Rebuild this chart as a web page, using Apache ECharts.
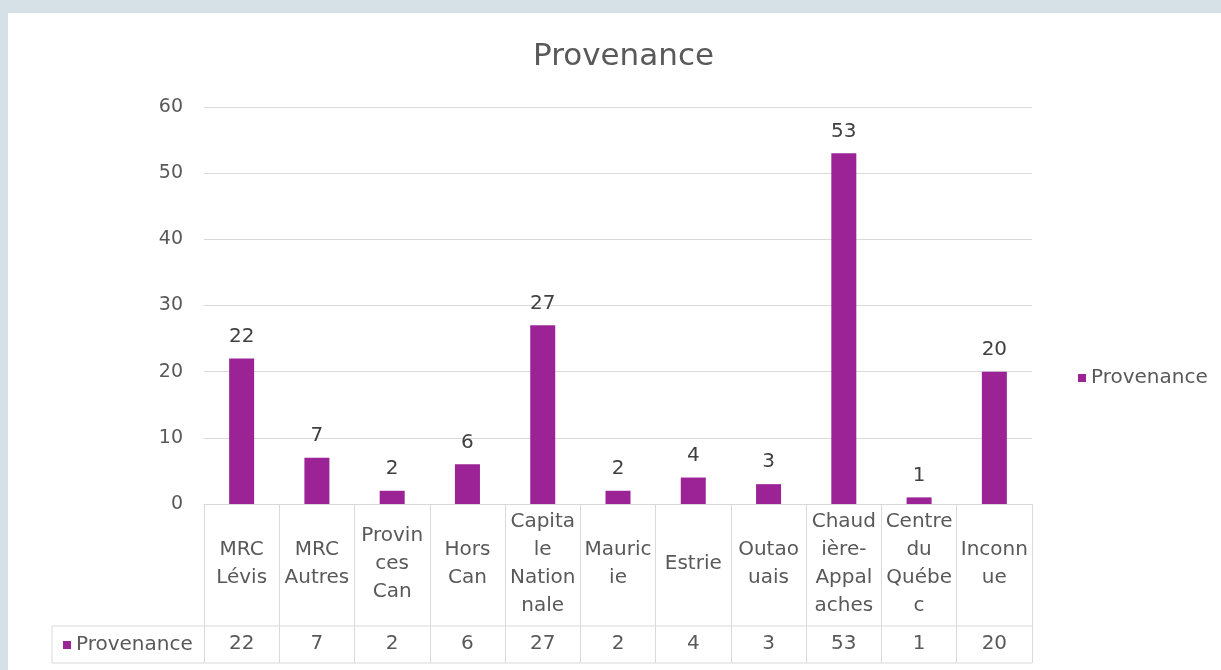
<!DOCTYPE html>
<html>
<head>
<meta charset="utf-8">
<script src="https://cdn.jsdelivr.net/npm/echarts@6/dist/echarts.min.js"></script>
<style>
  html, body { margin: 0; padding: 0; background: #d6e0e7; }
  #panel { position: absolute; left: 8px; top: 13px; width: 1213px; height: 657px; background: #ffffff; }
  #chart { position: absolute; left: 0; top: 0; width: 1221px; height: 670px; }
</style>
</head>
<body>
<div id="panel"></div>
<div id="chart"></div>
<script>
// ---- data ----
const seriesName = 'Provenance';
const categories = ['MRC Lévis', 'MRC Autres', 'Provinces Can', 'Hors Can', 'Capitale Nationale', 'Mauricie', 'Estrie', 'Outaouais', 'Chaudière-Appalaches', 'Centre du Québec', 'Inconnue'];
const categoryLabels = ['MRC\nLévis', 'MRC\nAutres', 'Provin\nces\nCan', 'Hors\nCan', 'Capita\nle\nNation\nnale', 'Mauric\nie', 'Estrie', 'Outao\nuais', 'Chaud\nière-\nAppal\naches', 'Centre\ndu\nQuébe\nc', 'Inconn\nue'];
const values = [22, 7, 2, 6, 27, 2, 4, 3, 53, 1, 20];
const yTicks = [0, 10, 20, 30, 40, 50, 60];

// ---- layout ----
const FONT = 'DejaVu Sans';
const TXT = '#595959';
const LINE = '#d9d9d9';
const BAR = '#9b2396';
const G = { left: 204, right: 189, top: 107, bottom: 166 };
const W = 1221, H = 670;
const axisY = H - G.bottom;          // 504
const rowTop = 626, rowBottom = 663, tableLeft = 52;

const chart = echarts.init(document.getElementById('chart'), null, { renderer: 'canvas' });

const option = {
  animation: false,
  backgroundColor: 'transparent',
  title: {
    text: 'Provenance',
    left: 528, top: 36,
    textStyle: { fontFamily: FONT, fontSize: 31, fontWeight: 'normal', color: TXT }
  },
  legend: [
    {
      data: [seriesName],
      left: 1073, top: 363,
      icon: 'rect', itemWidth: 8, itemHeight: 8, itemGap: 6,
      textStyle: { fontFamily: FONT, fontSize: 20, color: TXT }
    },
    {
      data: [seriesName],
      left: 58, top: 630,
      icon: 'rect', itemWidth: 8, itemHeight: 8, itemGap: 6,
      selectedMode: false,
      textStyle: { fontFamily: FONT, fontSize: 20, color: TXT }
    }
  ],
  grid: { left: G.left, right: G.right, top: G.top, bottom: G.bottom, containLabel: false },
  xAxis: [
    {
      type: 'category',
      data: categories,
      position: 'bottom',
      boundaryGap: true,
      axisLine: { show: true, lineStyle: { color: LINE, width: 1 } },
      axisTick: { show: true, alignWithLabel: false, inside: false, length: rowBottom - axisY, lineStyle: { color: LINE, width: 1 } },
      axisLabel: {
        interval: 0,
        margin: 60,
        verticalAlign: 'middle',
        align: 'center',
        fontFamily: FONT, fontSize: 20, lineHeight: 28, color: TXT,
        formatter: function (v, i) { return categoryLabels[i]; }
      },
      splitLine: { show: false }
    },
    {
      type: 'category',
      data: categories,
      position: 'bottom',
      boundaryGap: true,
      axisLine: { show: false },
      axisTick: { show: false },
      axisLabel: {
        interval: 0,
        margin: 140,
        verticalAlign: 'middle',
        align: 'center',
        fontFamily: FONT, fontSize: 20, color: TXT,
        formatter: function (v, i) { return String(values[i]); }
      }
    }
  ],
  yAxis: {
    type: 'value',
    min: yTicks[0], max: yTicks[yTicks.length - 1], interval: 10,
    axisLine: { show: false },
    axisTick: { show: false },
    axisLabel: { margin: 21, fontFamily: FONT, fontSize: 19, color: TXT },
    splitLine: { lineStyle: { color: LINE, width: 1 } }
  },
  series: [
    {
      name: seriesName,
      type: 'bar',
      data: values,
      barWidth: 25,
      itemStyle: { color: BAR },
      label: {
        show: true, position: 'top', distance: 12,
        fontFamily: FONT, fontSize: 20, color: '#404040'
      }
    }
  ],
  graphic: [
    { type: 'line', shape: { x1: tableLeft, y1: rowTop, x2: W - G.right, y2: rowTop }, style: { stroke: LINE, lineWidth: 1 }, silent: true },
    { type: 'line', shape: { x1: tableLeft, y1: rowBottom, x2: W - G.right, y2: rowBottom }, style: { stroke: LINE, lineWidth: 1 }, silent: true },
    { type: 'line', shape: { x1: tableLeft, y1: rowTop, x2: tableLeft, y2: rowBottom }, style: { stroke: LINE, lineWidth: 1 }, silent: true }
  ]
};

chart.setOption(option);
</script>
</body>
</html>
